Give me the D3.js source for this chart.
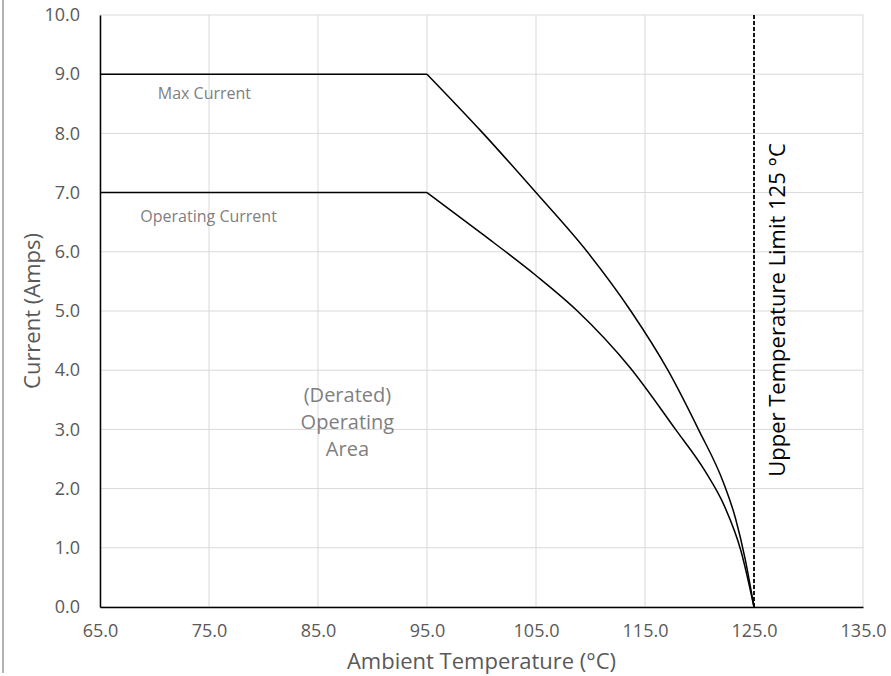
<!DOCTYPE html>
<html>
<head>
<meta charset="utf-8">
<script src="https://cdn.jsdelivr.net/npm/d3@7"></script>
<style>
  body { margin: 0; background: #fff; }
  text { font-family: "Open Sans", sans-serif; }
</style>
</head>
<body>
<div id="chart"></div>
<script>
// data
var maxTemps   = [65, 95, 100, 105, 109.7, 113.7, 117.1, 119.9, 122.2, 123.3, 124.2, 125];
var maxCurrent = [9, 9, 8.03, 7.0, 6.0, 5.0, 4.0, 3.0, 2.1, 1.5, 0.8, 0];
var opTemps    = [65, 95, 100, 105, 108.8, 113.6, 117.8, 120.5, 122.3, 123.8, 125];
var opCurrent  = [7, 7, 6.31, 5.6, 5.0, 4.05, 3.0, 2.3, 1.7, 0.95, 0];
var xTicks = [65, 75, 85, 95, 105, 115, 125, 135];
var yTicks = [0, 1, 2, 3, 4, 5, 6, 7, 8, 9, 10];
var limitTemp = 125;

var svgWidth = 891, svgHeight = 676;
var margin = {top: 15, right: 28, bottom: 69, left: 100};
var width = svgWidth - margin.left - margin.right;
var height = svgHeight - margin.top - margin.bottom;

var svg = d3.select("#chart").append("svg")
  .attr("width", svgWidth)
  .attr("height", svgHeight);

// left border line
svg.append("line")
  .attr("x1", 3).attr("x2", 3).attr("y1", 0).attr("y2", 673)
  .attr("stroke", "#7f7f7f").attr("stroke-width", 1.2);

var chartGroup = svg.append("g")
  .attr("transform", `translate(${margin.left}, ${margin.top})`);

var x = d3.scaleLinear().domain([65, 135]).range([0, width]);
var y = d3.scaleLinear().domain([0, 10]).range([height, 0]);

// gridlines
chartGroup.append("g").selectAll("line").data(yTicks).enter().append("line")
  .attr("x1", 0).attr("x2", width)
  .attr("y1", d => y(d)).attr("y2", d => y(d))
  .attr("stroke", "#d9d9d9").attr("stroke-width", 1);
chartGroup.append("g").selectAll("line").data(xTicks).enter().append("line")
  .attr("y1", 0).attr("y2", height)
  .attr("x1", d => x(d)).attr("x2", d => x(d))
  .attr("stroke", "#d9d9d9").attr("stroke-width", 1);

// axes
var bottomAxis = d3.axisBottom(x).tickValues(xTicks).tickSize(0).tickPadding(17)
  .tickFormat(d3.format(".1f"));
var leftAxis = d3.axisLeft(y).tickValues(yTicks).tickSize(0).tickPadding(20)
  .tickFormat(d3.format(".1f"));

var gx = chartGroup.append("g").attr("transform", `translate(0,${height})`).call(bottomAxis);
var gy = chartGroup.append("g").call(leftAxis);
[gx, gy].forEach(g => {
  g.select(".domain").attr("stroke", "#000").attr("stroke-width", 1.5);
  g.selectAll("text").attr("fill", "#595959").style("font-size", "18px")
    .style("font-family", "'Open Sans', sans-serif");
});

// curves
var maxData = maxTemps.map((t, i) => ({t: t, v: maxCurrent[i]}));
var opData = opTemps.map((t, i) => ({t: t, v: opCurrent[i]}));

var flatLine = d3.line().x(d => x(d.t)).y(d => y(d.v));
var curveLine = d3.line().x(d => x(d.t)).y(d => y(d.v)).curve(d3.curveMonotoneX);

[maxData, opData].forEach(data => {
  chartGroup.append("path").datum(data.slice(0, 2))
    .attr("d", flatLine).attr("fill", "none").attr("stroke", "#000").attr("stroke-width", 1.5);
  chartGroup.append("path").datum(data.slice(1))
    .attr("d", curveLine).attr("fill", "none").attr("stroke", "#000").attr("stroke-width", 1.5);
});

// temperature limit
chartGroup.append("line")
  .attr("x1", x(limitTemp)).attr("x2", x(limitTemp))
  .attr("y1", 0).attr("y2", height)
  .attr("stroke", "#000").attr("stroke-width", 1.8)
  .attr("stroke-dasharray", "4,2");

chartGroup.append("text")
  .attr("transform", `translate(${x(limitTemp) + 31}, ${y(5) - 1})rotate(-90)`)
  .attr("text-anchor", "middle")
  .style("font-size", "22px").attr("fill", "#000")
  .text("Upper Temperature Limit 125 °C");

// labels
chartGroup.append("text")
  .attr("x", x(70.3)).attr("y", y(8.58))
  .style("font-size", "16px").attr("fill", "#7f7f7f")
  .text("Max Current");
chartGroup.append("text")
  .attr("x", x(68.7)).attr("y", y(6.5))
  .style("font-size", "16px").attr("fill", "#7f7f7f")
  .text("Operating Current");

var area = chartGroup.append("text")
  .attr("text-anchor", "middle")
  .style("font-size", "20px").attr("fill", "#7f7f7f");
["(Derated)", "Operating", "Area"].forEach((s, i) => {
  area.append("tspan").attr("x", x(87.7)).attr("y", y(3.56) + 6 + i * 27).text(s);
});

// axis titles
chartGroup.append("text")
  .attr("x", width / 2).attr("y", height + 62)
  .attr("text-anchor", "middle")
  .style("font-size", "22px").attr("fill", "#595959")
  .text("Ambient Temperature (°C)");

chartGroup.append("text")
  .attr("transform", `translate(${-60}, ${height / 2})rotate(-90)`)
  .attr("text-anchor", "middle")
  .style("font-size", "22px").attr("fill", "#595959")
  .text("Current (Amps)");
</script>
</body>
</html>
